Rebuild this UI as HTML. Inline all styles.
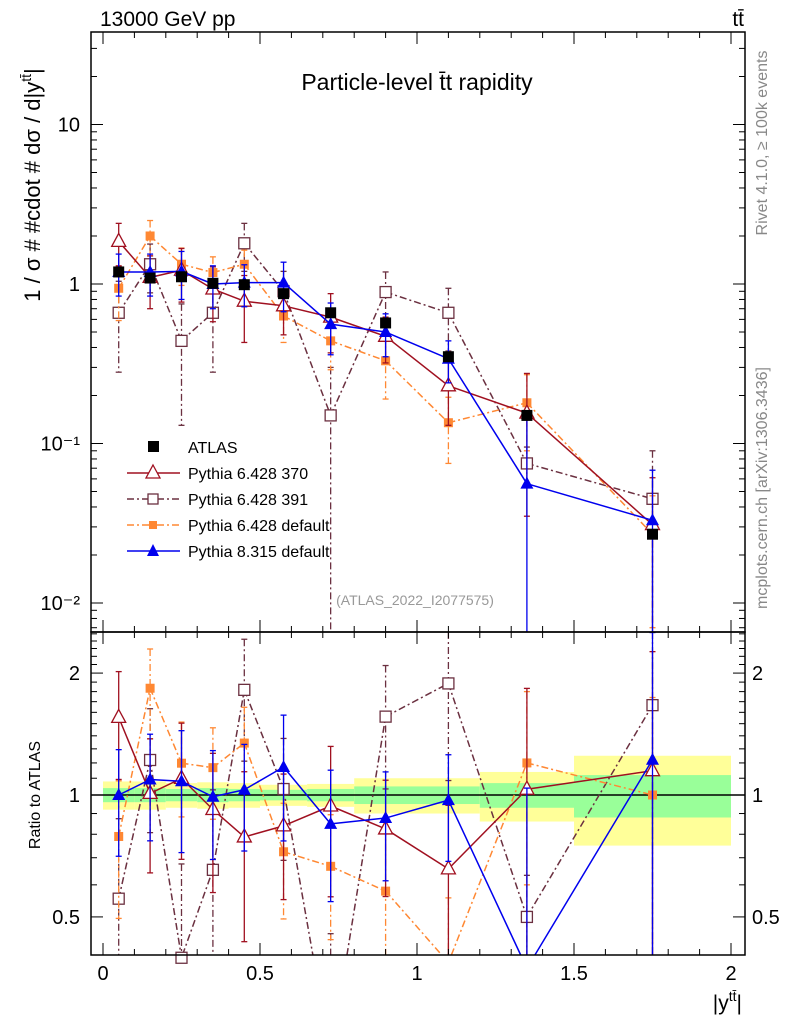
<!DOCTYPE html>
<html><head><meta charset="utf-8"><style>
html,body{margin:0;background:#fff;width:786px;height:1024px;overflow:hidden}
svg{display:block;font-family:"Liberation Sans",sans-serif}
</style></head><body>
<div style="position:relative;width:786px;height:1024px;overflow:hidden">
<svg id="c" width="786" height="1024" viewBox="0 0 786 1024" style="position:absolute;left:0;top:0"></svg>
<svg width="786" height="1024" style="position:absolute;left:0;top:0;font-family:'Liberation Sans',sans-serif">
<text x="100" y="26" font-size="21">13000 GeV pp</text>
<text x="744" y="26" font-size="21" text-anchor="end">tt̄</text>
<text x="417" y="90" font-size="23" text-anchor="middle">Particle-level t̄t rapidity</text>
<text transform="translate(40,185) rotate(-90)" font-size="22" text-anchor="middle">1 / σ # #cdot # dσ / d|y<tspan dy="-9" font-size="14">tt̄</tspan><tspan dy="9">|</tspan></text>
<text transform="translate(40,795) rotate(-90)" font-size="16" text-anchor="middle">Ratio to ATLAS</text>
<text x="742" y="1010" font-size="21" text-anchor="end">|y<tspan dy="-9" font-size="14">tt̄</tspan><tspan dy="9">|</tspan></text>
<text transform="translate(767,143) rotate(-90)" font-size="16" fill="#888" text-anchor="middle">Rivet 4.1.0, ≥ 100k events</text>
<text transform="translate(767,488) rotate(-90)" font-size="16" fill="#888" text-anchor="middle">mcplots.cern.ch [arXiv:1306.3436]</text>
<text x="415" y="605" font-size="14" fill="#999" text-anchor="middle">(ATLAS_2022_I2077575)</text>
<g font-size="16">
 <rect x="148" y="441" width="11" height="11" fill="#000"/>
 <text x="188" y="453">ATLAS</text>
 <line x1="127" x2="180" y1="473" y2="473" stroke="#a01020" stroke-width="1.5"/>
 <path d="M153,465L160,478L146,478Z" fill="#fff" stroke="#a01020" stroke-width="1.3"/>
 <text x="188" y="479">Pythia 6.428 370</text>
 <line x1="127" x2="180" y1="499" y2="499" stroke="#6b3040" stroke-width="1.5" stroke-dasharray="7,3,2,3"/>
 <rect x="148" y="494" width="10" height="10" fill="#fff" stroke="#6b3040" stroke-width="1.3"/>
 <text x="188" y="505">Pythia 6.428 391</text>
 <line x1="127" x2="180" y1="525" y2="525" stroke="#ff8833" stroke-width="1.5" stroke-dasharray="7,3,2,3"/>
 <rect x="149" y="521" width="8" height="8" fill="#ff8833"/>
 <text x="188" y="531">Pythia 6.428 default</text>
 <line x1="127" x2="180" y1="551" y2="551" stroke="#0000ee" stroke-width="1.5"/>
 <path d="M153,544L159,556L147,556Z" fill="#0000ee"/>
 <text x="188" y="557">Pythia 8.315 default</text>
</g>
</svg>
</div>
<script>
const binEdges=[0,0.1,0.2,0.3,0.4,0.5,0.65,0.8,1.0,1.2,1.5,2.0];
const atlasVals=[1.19,1.09,1.11,1.01,0.99,0.87,0.66,0.57,0.35,0.15,0.027];
const bandTotal=[0.08,0.08,0.07,0.075,0.07,0.06,0.065,0.1,0.1,0.14,0.25];
const bandStat=[0.04,0.04,0.035,0.04,0.035,0.03,0.035,0.05,0.05,0.07,0.12];
const py370=[1.85,1.10,1.22,0.93,0.78,0.73,0.62,0.47,0.23,0.155,0.031];
const py370err=[0.55,0.4,0.45,0.35,0.35,0.25,0.25,0.15,0.1,0.12,0.03];
const py391=[0.66,1.33,0.44,0.66,1.80,0.90,0.15,0.89,0.66,0.075,0.045];
const py391err=[0.38,0.45,0.31,0.38,0.6,0.3,0.15,0.3,0.28,0.02,0.045];
const pyDef=[0.94,2.0,1.33,1.18,1.33,0.63,0.44,0.33,0.135,0.18,0.027];
const pyDefErr=[0.35,0.5,0.35,0.3,0.3,0.2,0.15,0.14,0.06,0.09,0.02];
const py8=[1.19,1.19,1.2,1.0,1.02,1.02,0.56,0.5,0.34,0.056,0.033];
const py8err=[0.35,0.35,0.4,0.3,0.3,0.35,0.2,0.15,0.1,0.1,0.035];
const xTicks=[0,0.5,1,1.5,2];
const mainTicks=[0.01,0.1,1,10];
const mainTickLabels=["10\u207B\u00B2","10\u207B\u00B9","1","10"];
const ratioTicks=[0.5,1,2];

const NS="http://www.w3.org/2000/svg";
const svg=document.getElementById('c');
const L=91,R=745,T=32,M=632,B=955;
const X=v=>103+314*v;
const Ym=v=>284-159.5*Math.log10(v);
const Yr=v=>795-405*Math.log10(v);
function el(t,a,p){const e=document.createElementNS(NS,t);for(const k in a)e.setAttribute(k,a[k]);(p||svg).appendChild(e);return e;}
function txt(s,a,p){const e=el('text',a,p);e.textContent=s;return e;}
const centers=binEdges.slice(0,-1).map((e,i)=>(e+binEdges[i+1])/2);

// clip segment to y range [y0,y1]; returns null if fully outside
function clipSeg(xa,ya,xb,yb,y0,y1){
  let t0=0,t1=1;const dy=yb-ya;
  const test=(p,q)=>{if(p===0)return q>=0;const r=q/p;if(p<0){if(r>t1)return false;if(r>t0)t0=r;}else{if(r<t0)return false;if(r<t1)t1=r;}return true;};
  if(!test(-dy,ya-y0))return null;if(!test(dy,y1-ya))return null;
  return [xa+(xb-xa)*t0,ya+dy*t0,xa+(xb-xa)*t1,ya+dy*t1];
}

const gBand=el('g',{});


binEdges.slice(0,-1).forEach((e,i)=>{
  const x1=X(e),x2=X(binEdges[i+1]);
  const r1=el('rect',{x:x1,y:Yr(1+bandTotal[i]),width:x2-x1,height:Yr(1-bandTotal[i])-Yr(1+bandTotal[i]),fill:'#ffff99'},gBand);
  
  
  const r2=el('rect',{x:x1,y:Yr(1+bandStat[i]),width:x2-x1,height:Yr(1-bandStat[i])-Yr(1+bandStat[i]),fill:'#99ff99'},gBand);
  
  
});
el('line',{x1:L,x2:R,y1:Yr(1),y2:Yr(1),stroke:'#000','stroke-width':1.5},gBand);

function marker(g,type,x,y,color,y0,y1){
  if(y<y0-4||y>y1+4)return;
  if(type==='fsq')el('rect',{x:x-5.5,y:y-5.5,width:11,height:11,fill:color},g);
  else if(type==='osq')el('rect',{x:x-5.5,y:y-5.5,width:11,height:11,fill:'#fff',stroke:color,'stroke-width':1.3},g);
  else if(type==='ssq')el('rect',{x:x-4.5,y:y-4.5,width:9,height:9,fill:color},g);
  else if(type==='otri')el('path',{d:`M${x},${y-8}L${x+7},${y+5}L${x-7},${y+5}Z`,fill:'#fff',stroke:color,'stroke-width':1.3},g);
  else if(type==='ftri')el('path',{d:`M${x},${y-7}L${x+6.5},${y+5}L${x-6.5},${y+5}Z`,fill:color},g);
}
function series(name,vals,errs,color,dash,type,ratio){
  const g=el('g',{});
  
  
  const Y=ratio?Yr:Ym;
  const y0=ratio?M:T,y1=ratio?B:M;
  const v=ratio?vals.map((a,i)=>a/atlasVals[i]):vals;
  const lo=vals.map((a,i)=>Math.max(a-errs[i],1e-5)/(ratio?atlasVals[i]:1));
  const hi=vals.map((a,i)=>(a+errs[i])/(ratio?atlasVals[i]:1));
  centers.forEach((c,i)=>{
    const x=X(c);
    const s=clipSeg(x,Y(hi[i]),x,Y(lo[i]),y0,y1);
    if(s)el('line',{x1:s[0],x2:s[2],y1:s[1],y2:s[3],stroke:color,'stroke-width':1.3,'stroke-dasharray':dash||''},g);
    [hi[i],lo[i]].forEach(q=>{const yy=Y(q);if(yy>=y0&&yy<=y1)el('line',{x1:x-3,x2:x+3,y1:yy,y2:yy,stroke:color,'stroke-width':1.3},g);});
  });
  for(let i=0;i<centers.length-1;i++){
    const s=clipSeg(X(centers[i]),Y(v[i]),X(centers[i+1]),Y(v[i+1]),y0,y1);
    if(s)el('line',{x1:s[0],y1:s[1],x2:s[2],y2:s[3],stroke:color,'stroke-width':1.5,'stroke-dasharray':dash||''},g);
  }
  centers.forEach((c,i)=>marker(g,type,X(c),Y(v[i]),color,y0,y1));
}
const S=[
 ['pythia-6428-391',py391,py391err,'#6b3040','7,3,2,3','osq'],
 ['pythia-6428-default',pyDef,pyDefErr,'#ff8833','7,3,2,3','ssq'],
 ['pythia-6428-370',py370,py370err,'#a01020','','otri'],
 ['pythia-8315-default',py8,py8err,'#0000ee','','ftri'],
];
S.forEach(s=>series(s[0],s[1],s[2],s[3],s[4],s[5],false));
const ga=el('g',{});


centers.forEach((c,i)=>marker(ga,'fsq',X(c),Ym(atlasVals[i]),'#000',T,M));
S.forEach(s=>series(s[0],s[1],s[2],s[3],s[4],s[5],true));

el('rect',{x:L,y:T,width:R-L,height:M-T,fill:'none',stroke:'#000','stroke-width':1.5});
el('rect',{x:L,y:M,width:R-L,height:B-M,fill:'none',stroke:'#000','stroke-width':1.5});
for(let k=0;k<=20;k++){const v=k/10,x=X(v),maj=k%5===0,h=maj?12:6;
  [[T,1],[M,-1],[M,1],[B,-1]].forEach(([y,d])=>el('line',{x1:x,x2:x,y1:y,y2:y+d*h,stroke:'#000','stroke-width':1}));}
xTicks.forEach(v=>{const t=txt(String(v),{x:X(v),y:980,'font-size':20,'text-anchor':'middle'});
  });
for(let e=-3;e<=1;e++)for(let m=1;m<=9;m++){const v=m*Math.pow(10,e),y=Ym(v);if(y<T||y>M)continue;const h=m===1?12:6;
  el('line',{x1:L,x2:L+h,y1:y,y2:y,stroke:'#000'});el('line',{x1:R,x2:R-h,y1:y,y2:y,stroke:'#000'});}
mainTicks.forEach((v,i)=>{const t=txt(mainTickLabels[i],{x:80,y:Ym(v)+7,'font-size':20,'text-anchor':'end'});
  });
[0.4,0.5,0.6,0.7,0.8,0.9,1,1.1,1.2,1.3,1.4,1.5,1.6,1.7,1.8,1.9,2,2.1,2.2,2.3,2.4,2.5].forEach(v=>{const y=Yr(v);if(y<M||y>B)return;
  const h=ratioTicks.includes(v)?12:6;
  el('line',{x1:L,x2:L+h,y1:y,y2:y,stroke:'#000'});el('line',{x1:R,x2:R-h,y1:y,y2:y,stroke:'#000'});});
ratioTicks.forEach(v=>{let t=txt(String(v),{x:80,y:Yr(v)+7,'font-size':20,'text-anchor':'end'});
  
  t=txt(String(v),{x:752,y:Yr(v)+7,'font-size':20});
  });
</script>
</body></html>
